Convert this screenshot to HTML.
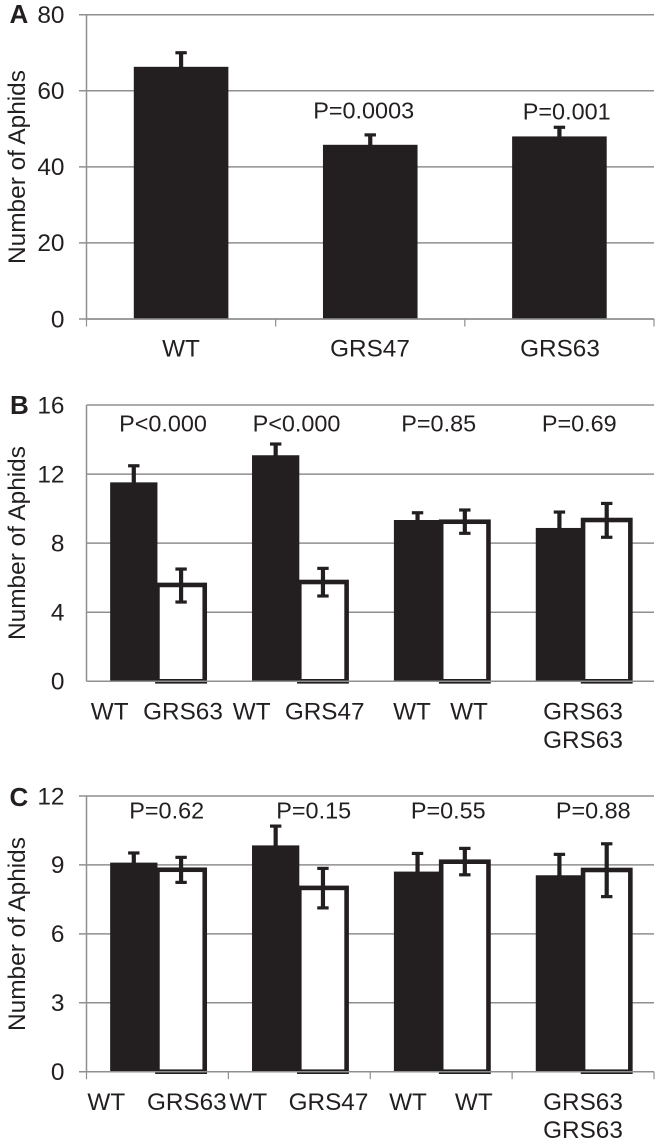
<!DOCTYPE html>
<html lang="en">
<head>
<meta charset="utf-8">
<title>Number of Aphids panels</title>
<style>
html,body{margin:0;padding:0;background:#fff;}
svg{display:block;}
text{font-family:"Liberation Sans",sans-serif;fill:#231f20;}
.t{font-size:24.4px;}
.p{font-size:23.4px;text-anchor:middle;}
.x{font-size:24.3px;text-anchor:middle;}
.l{font-size:26px;font-weight:bold;}
</style>
</head>
<body>
<svg id="chart" width="661" height="1144" viewBox="0 0 661 1144" xmlns="http://www.w3.org/2000/svg">
<g id="marks"></g>

<text class="l" x="9.5" y="23">A</text>
<text class="l" x="10" y="414">B</text>
<text class="l" x="9.5" y="806">C</text>

<text class="t" text-anchor="middle" transform="translate(25,167) rotate(-90)">Number of Aphids</text>
<text class="t" text-anchor="middle" transform="translate(25,543) rotate(-90)">Number of Aphids</text>
<text class="t" text-anchor="middle" transform="translate(25,934) rotate(-90)">Number of Aphids</text>

<text class="p" x="363.7" y="118.3">P=0.0003</text>
<text class="p" x="566.7" y="119.3">P=0.001</text>
<text class="x" x="181" y="356.7">WT</text>
<text class="x" x="370" y="356.7">GRS47</text>
<text class="x" x="560" y="356.7">GRS63</text>

<text class="p" x="163" y="431.7">P&lt;0.000</text>
<text class="p" x="296.5" y="431.7">P&lt;0.000</text>
<text class="p" x="438.7" y="431.7">P=0.85</text>
<text class="p" x="579.3" y="431.7">P=0.69</text>
<text class="x" x="109.7" y="719.3">WT</text>
<text class="x" x="183" y="719.3">GRS63</text>
<text class="x" x="251.7" y="719.3">WT</text>
<text class="x" x="324.7" y="719.3">GRS47</text>
<text class="x" x="412" y="719.3">WT</text>
<text class="x" x="469" y="719.3">WT</text>
<text class="x" x="583" y="719.3">GRS63</text>
<text class="x" x="583" y="748">GRS63</text>

<text class="p" x="166.7" y="818.3">P=0.62</text>
<text class="p" x="313.7" y="818.3">P=0.15</text>
<text class="p" x="448.3" y="818.3">P=0.55</text>
<text class="p" x="593.3" y="818.3">P=0.88</text>
<text class="x" x="106.3" y="1110">WT</text>
<text class="x" x="186.8" y="1110">GRS63</text>
<text class="x" x="248.3" y="1110">WT</text>
<text class="x" x="328.5" y="1110">GRS47</text>
<text class="x" x="408" y="1110">WT</text>
<text class="x" x="473.8" y="1110">WT</text>
<text class="x" x="583" y="1110">GRS63</text>
<text class="x" x="583" y="1138">GRS63</text>
</svg>
<script>
// Panel A data
var aTicks = [0, 20, 40, 60, 80];
var aValues = [66.3, 45.8, 48.0];
var aUpper = [70.0, 48.4, 50.4];

// Panel B data
var bTicks = [0, 4, 8, 12, 16];
var bBlack = [11.52, 13.09, 9.34, 8.88];
var bBlackUpper = [12.48, 13.74, 9.76, 9.80];
var bWhite = [5.58, 5.75, 9.24, 9.34];
var bWhiteUpper = [6.50, 6.54, 9.92, 10.30];
var bWhiteLower = [4.59, 4.94, 8.57, 8.34];

// Panel C data
var cTicks = [0, 3, 6, 9, 12];
var cBlack = [9.10, 9.85, 8.71, 8.55];
var cBlackUpper = [9.52, 10.69, 9.50, 9.46];
var cWhite = [8.79, 8.00, 9.14, 8.78];
var cWhiteUpper = [9.33, 8.85, 9.72, 9.92];
var cWhiteLower = [8.24, 7.13, 8.57, 7.62];

var NS = 'http://www.w3.org/2000/svg';
var root = document.getElementById('marks');
var GRID = '#8f8f8f';
var INK = '#231f20';
var LEFT = 86.5;
var RIGHT = 654;

function make(tag, attrs, name) {
  var el = document.createElementNS(NS, tag);
  for (var k in attrs) { el.setAttribute(k, attrs[k]); }
  
  
  root.appendChild(el);
  return el;
}
function hline(x1, x2, y, w, color, name) {
  return make('line', {x1: x1, x2: x2, y1: y, y2: y, stroke: color, 'stroke-width': w}, name);
}
function vline(x, y1, y2, w, color, name) {
  return make('line', {x1: x, x2: x, y1: y1, y2: y2, stroke: color, 'stroke-width': w}, name);
}
function errorBar(x, yTop, yBottom, hasLower, name) {
  vline(x, yTop, yBottom, 4.2, INK, name + '-stem');
  hline(x - 5.7, x + 5.7, yTop, 3.2, INK, name + '-cap-top');
  if (hasLower) { hline(x - 5.7, x + 5.7, yBottom, 3.2, INK, name + '-cap-bottom'); }
}
function panelAxes(prefix, ticks, yScale, overhang) {
  var max = ticks[ticks.length - 1];
  ticks.forEach(function (t) {
    hline(overhang ? 79 : LEFT, RIGHT, yScale(t), 1.5, GRID, prefix + '-gridline-' + t);
    var label = make('text', {x: 64.5, y: yScale(t) + 8.3, 'text-anchor': 'end', 'class': 't'}, prefix + '-y-tick-' + t);
    label.textContent = String(t);
  });
  vline(LEFT, yScale(max), yScale(0), 1.5, GRID, prefix + '-y-axis');
}
function xTicks(prefix, count, yBase) {
  for (var i = 0; i <= count; i++) {
    var x = LEFT + (RIGHT - LEFT) * i / count;
    vline(x, yBase, yBase + 7.5, 1.2, GRID, prefix + '-x-tick-' + i);
  }
}

function drawSingle(prefix, ticks, values, upper, yTop, yBase) {
  var max = ticks[ticks.length - 1];
  var y = function (v) { return yBase - (yBase - yTop) * v / max; };
  var band = (RIGHT - LEFT) / values.length;
  var w = band / 2;
  panelAxes(prefix, ticks, y, true);
  values.forEach(function (v, i) {
    var cx = LEFT + band * (i + 0.5);
    errorBar(cx, y(upper[i]), y(v) + 2, false, prefix + '-error-' + i);
    make('rect', {x: cx - w / 2, y: y(v), width: w, height: yBase - y(v), fill: INK}, prefix + '-bar-' + i);
  });
  hline(LEFT, RIGHT, yBase, 1.5, GRID, prefix + '-x-axis');
  xTicks(prefix, values.length, yBase);
}

function drawPaired(prefix, ticks, black, blackUp, white, whiteUp, whiteLow, yTop, yBase, withTicks) {
  var max = ticks[ticks.length - 1];
  var y = function (v) { return yBase - (yBase - yTop) * v / max; };
  var band = (RIGHT - LEFT) / black.length;
  var w = band / 3;
  panelAxes(prefix, ticks, y, withTicks);
  black.forEach(function (v, i) {
    var mid = LEFT + band * (i + 0.5);
    errorBar(mid - w / 2, y(blackUp[i]), y(v) + 2, false, prefix + '-black-error-' + i);
    make('rect', {x: mid - w, y: y(v), width: w, height: yBase - y(v), fill: INK}, prefix + '-black-bar-' + i);
    make('rect', {x: mid, y: y(white[i]), width: w, height: yBase - y(white[i]), fill: '#fff', stroke: INK, 'stroke-width': 4.6}, prefix + '-white-bar-' + i);
    errorBar(mid + w / 2, y(whiteUp[i]), y(whiteLow[i]), true, prefix + '-white-error-' + i);
  });
  hline(LEFT, RIGHT, yBase, 1.5, GRID, prefix + '-x-axis');
  if (withTicks) { xTicks(prefix, black.length, yBase); }
}

drawSingle('panel-a', aTicks, aValues, aUpper, 14.7, 319);
drawPaired('panel-b', bTicks, bBlack, bBlackUpper, bWhite, bWhiteUpper, bWhiteLower, 405, 681.3, false);
drawPaired('panel-c', cTicks, cBlack, cBlackUpper, cWhite, cWhiteUpper, cWhiteLower, 796, 1071.7, true);
</script>
</body>
</html>
